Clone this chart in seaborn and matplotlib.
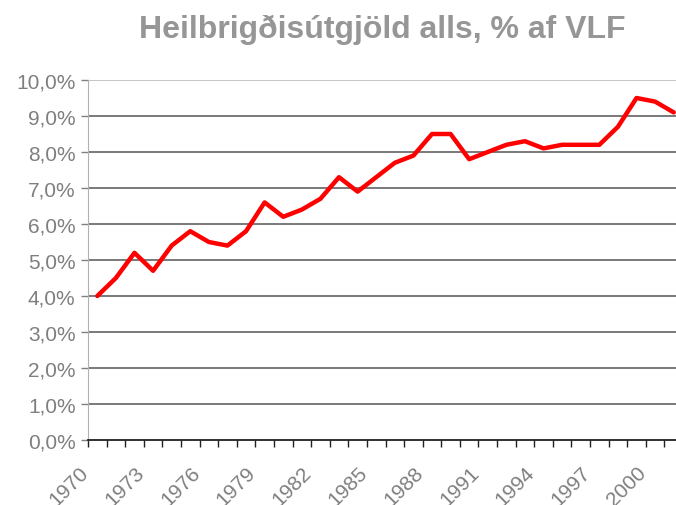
import numpy as np
import pandas as pd
import seaborn as sns
import matplotlib.pyplot as plt

years = list(range(1970, 2002))
share = [4.0, 4.5, 5.2, 4.7, 5.4, 5.8, 5.5, 5.4, 5.8, 6.6,
         6.2, 6.4, 6.7, 7.3, 6.9, 7.3, 7.7, 7.9, 8.5, 8.5,
         7.8, 8.0, 8.2, 8.3, 8.1, 8.2, 8.2, 8.2, 8.7, 9.5,
         9.4, 9.1]
y_ticks = [0, 1, 2, 3, 4, 5, 6, 7, 8, 9, 10]
title = "Heilbrigðisútgjöld alls, % af VLF"

df = pd.DataFrame({"pos": np.arange(len(years)), "year": years, "share": share})

sns.set_style("white")
plt.rcParams['font.family'] = ['Liberation Sans', 'DejaVu Sans']

fig = plt.figure(figsize=(6.76, 5.06), dpi=100)
ax = fig.add_axes([88 / 676, 1 - 441 / 506, (683 - 88) / 676, (441 - 81) / 506])

# horizontal gridlines, top one lighter (plot area border)
for v in y_ticks[1:-1]:
    ax.axhline(v, color='#6e6e6e', lw=1.3, zorder=1)
ax.axhline(10, color='#c0c0c0', lw=1.3, zorder=1)

sns.lineplot(data=df, x="pos", y="share", color='#ff0000', lw=3.2, ax=ax, zorder=3)

ax.set_xlim(-0.5, len(years) - 0.5)
ax.set_ylim(0, 10)
ax.set_yticks(y_ticks)
ax.set_yticklabels([f"{v:.1f}%".replace('.', ',') for v in y_ticks],
                   fontsize=15, color='#7f7f7f')
ax.tick_params(axis='y', length=5, width=1, color='#808080', pad=4, left=True)

# tick marks between categories, labels every third year
ax.set_xticks(np.arange(len(years) + 1) - 0.5)
ax.set_xticklabels([])
ax.tick_params(axis='x', length=5, width=1, color='#202020', bottom=True, direction='out')
for i, yr in enumerate(years):
    if (yr - 1970) % 3 == 0:
        ax.text(i - 1.0, -0.62, str(yr), rotation=45, ha='right', va='top',
                rotation_mode='anchor', fontsize=15, color='#7f7f7f',
                transform=ax.transData, clip_on=False)

ax.set_xlabel("")
ax.set_ylabel("")
for s in ['top', 'right']:
    ax.spines[s].set_visible(False)
ax.spines['left'].set_color('#b0b0b0')
ax.spines['bottom'].set_color('#202020')
ax.spines['bottom'].set_linewidth(1.3)

fig.text((88 + 676) / 2 / 676, 1 - 30 / 506, title, ha='center', va='center',
         fontsize=23, fontweight='bold', color='#969696')

fig.savefig("out.png", dpi=100)
